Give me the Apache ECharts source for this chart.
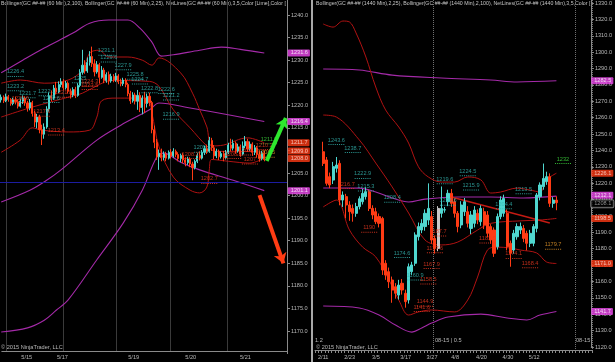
<!DOCTYPE html>
<html><head><meta charset="utf-8">
<script src="https://cdn.jsdelivr.net/npm/echarts@6/dist/echarts.min.js"></script>
<style>html,body{margin:0;padding:0;background:#000;}#c{width:615px;height:362px;}</style>
</head><body><div id="c"></div>
<script>
// ---------------- LEFT PANEL (60 min) ----------------
const leftSlots = 120;
const leftTitle = 'Bollinger(GC ##-## (60 Min),2,100), Bollinger(GC ##-## (60 Min),2,25), NetLines(GC ##-## (60 Min),3,5,Color [Lime],Color [';
const leftDateTicks = [[10,'5/15'],[25,'5/17'],[55,'5/19'],[79,'5/20'],[102,'5/21']];
const leftSessionBreaks = [2,26,48,71,95];
// [open, close, low, high]
const leftOHLC = [
[1221.2,1221.8,1220.6,1222.4],[1221.8,1221.0,1220.5,1222.2],[1221.0,1221.9,1220.7,1222.6],[1221.9,1221.3,1220.8,1222.3],
[1221.3,1220.4,1219.9,1221.6],[1220.4,1221.2,1220.0,1221.7],[1221.2,1220.8,1220.2,1221.9],[1220.8,1219.8,1219.3,1221.3],
[1219.8,1220.9,1219.5,1221.5],[1220.9,1221.6,1220.3,1222.2],[1221.6,1220.5,1219.9,1222.0],[1220.5,1219.4,1218.6,1221.0],
[1219.4,1220.6,1218.9,1221.4],[1220.6,1218.2,1217.5,1221.0],[1218.2,1216.3,1215.2,1218.8],[1216.3,1217.4,1214.9,1218.1],
[1217.4,1214.6,1213.8,1217.9],[1214.6,1213.6,1211.2,1215.7],[1213.6,1215.2,1212.6,1216.0],[1215.2,1219.2,1214.8,1219.8],
[1219.2,1222.1,1218.6,1222.8],[1222.1,1221.6,1220.9,1223.3],[1221.6,1223.8,1221.2,1224.5],[1223.8,1223.0,1222.4,1225.2],
[1223.0,1224.6,1222.7,1225.3],[1224.6,1225.2,1224.0,1226.0],[1225.2,1223.9,1223.3,1225.8],[1223.9,1224.9,1223.5,1225.4],
[1224.9,1223.1,1222.6,1225.3],[1223.1,1222.3,1221.5,1223.7],[1222.3,1223.5,1221.8,1224.0],[1223.5,1222.2,1221.6,1224.1],
[1222.2,1224.4,1221.9,1224.9],[1224.4,1227.3,1224.0,1228.0],[1227.3,1228.9,1226.8,1232.3],[1228.9,1227.6,1227.0,1230.0],
[1227.6,1229.5,1227.2,1230.6],[1229.5,1230.8,1228.8,1232.0],[1230.8,1229.2,1228.5,1233.0],[1229.2,1227.4,1226.4,1230.2],
[1227.4,1229.0,1227.0,1229.8],[1229.0,1226.2,1224.8,1229.4],[1226.2,1227.8,1225.9,1228.7],[1227.8,1225.5,1224.9,1228.3],
[1225.5,1226.8,1225.0,1227.3],[1226.8,1225.4,1224.6,1227.5],[1225.4,1226.4,1225.0,1227.0],[1226.4,1225.6,1225.1,1226.9],
[1225.6,1226.5,1225.2,1227.2],[1226.5,1225.2,1224.7,1226.9],[1225.2,1224.8,1224.2,1225.9],[1224.8,1225.6,1224.3,1226.1],
[1225.6,1224.6,1224.0,1226.0],[1224.6,1222.6,1222.0,1225.0],[1222.6,1221.0,1220.3,1223.2],[1221.0,1222.3,1220.6,1222.9],
[1222.3,1220.9,1220.2,1222.8],[1220.9,1222.2,1219.0,1223.4],[1222.2,1219.5,1218.5,1222.9],[1219.5,1221.6,1218.0,1222.2],
[1221.6,1220.4,1218.3,1223.0],[1220.4,1222.0,1219.5,1222.6],[1222.0,1220.6,1219.8,1222.8],[1220.6,1214.6,1213.8,1221.0],
[1214.6,1211.8,1210.5,1215.5],[1211.8,1208.6,1207.9,1212.6],[1208.6,1209.4,1205.7,1210.2],[1209.4,1208.4,1207.6,1210.4],
[1208.4,1209.2,1207.8,1209.8],[1209.2,1208.3,1207.6,1209.7],[1208.3,1209.6,1208.0,1210.0],[1209.6,1208.8,1208.2,1210.3],
[1208.8,1209.8,1208.4,1210.5],[1209.8,1209.1,1208.5,1210.2],[1209.1,1208.2,1207.6,1209.6],[1208.2,1208.9,1207.4,1209.3],
[1208.9,1207.9,1207.2,1209.4],[1207.9,1207.3,1206.5,1208.5],[1207.3,1208.1,1206.8,1208.6],[1208.1,1207.0,1206.3,1208.5],
[1207.0,1206.2,1203.4,1207.5],[1206.2,1207.6,1205.8,1208.0],[1207.6,1208.9,1207.2,1209.4],[1208.9,1208.3,1207.8,1209.8],
[1208.3,1209.6,1208.0,1210.1],[1209.6,1210.4,1209.0,1211.0],[1210.4,1209.8,1209.2,1211.3],[1209.8,1212.2,1209.5,1213.0],
[1212.2,1210.6,1209.9,1212.8],[1210.6,1208.8,1208.1,1211.2],[1208.8,1209.8,1208.3,1210.4],[1209.8,1208.6,1207.9,1210.2],
[1208.6,1209.3,1208.2,1209.8],[1209.3,1208.4,1207.6,1209.9],[1208.4,1209.6,1208.0,1210.1],[1209.6,1211.2,1209.2,1211.7],
[1211.2,1210.5,1209.8,1212.6],[1210.5,1211.6,1210.0,1212.4],[1211.6,1209.9,1209.3,1212.0],[1209.9,1210.8,1209.5,1211.5],
[1210.8,1209.2,1208.6,1211.3],[1209.2,1211.0,1208.9,1212.0],[1211.0,1212.0,1210.5,1213.2],[1212.0,1210.3,1209.7,1212.6],
[1210.3,1211.4,1209.9,1212.0],[1211.4,1209.6,1208.8,1211.8],[1209.6,1210.6,1209.0,1211.2],[1210.6,1209.1,1208.4,1211.0],
[1209.1,1208.2,1207.5,1209.8],[1208.2,1209.3,1207.8,1209.9],[1209.3,1208.0,1207.6,1210.0]
];
// Bollinger (2,100) magenta, read at bar index
const leftMagUpper = [[0,1227.2],[9,1230.0],[18,1232.7],[30,1236.0],[37,1238.2],[45,1238.9],[53,1238.9],[58,1237.1],[63,1234.0],[67,1230.9],[72,1231.2],[83,1232.2],[92,1232.9],[100,1232.4],[110,1231.6]];
const leftMagMid = [[0,1198.6],[12,1201.2],[19,1203.4],[25,1205.7],[40,1212.3],[50,1215.6],[62,1219.0],[66,1220.5],[79,1219.4],[96,1217.8],[110,1216.4]];
const leftMagLower = [[0,1169.8],[11,1170.7],[18,1172.4],[23,1174.6],[28,1176.9],[40,1185.8],[51,1193.9],[59,1201.2],[65,1208.5],[68,1209.4],[75,1207.4],[83,1205.7],[97,1203.4],[110,1201.1]];
// Bollinger (2,25) red
const leftRedUpper = [[0,1224.9],[8,1225.6],[18,1224.9],[28,1225.6],[34,1227.8],[37,1231.6],[41,1232.2],[45,1230.7],[53,1230.7],[59,1230.0],[63,1228.9],[66,1230.5],[75,1227.2],[80,1222.7],[83,1219.0],[86,1215.2],[88,1211.0],[93,1211.2],[103,1212.8],[110,1211.7]];
const leftRedMid = [[0,1217.4],[13,1219.6],[28,1221.8],[34,1222.7],[41,1224.6],[46,1225.5],[62,1225.3],[66,1224.2],[72,1219.0],[79,1215.0],[86,1211.0],[90,1209.8],[100,1209.8],[110,1209.6]];
const leftRedLower = [[0,1209.6],[8,1212.3],[13,1215.0],[17,1214.5],[28,1214.1],[37,1214.5],[40,1217.4],[42,1221.0],[48,1221.6],[61,1221.6],[63,1218.3],[66,1210.8],[72,1204.1],[79,1201.2],[83,1200.6],[86,1201.9],[87,1205.7],[88,1208.0],[95,1207.6],[104,1207.2],[110,1208.3]];
const leftBlueLevel = 1202.9;
// NetLines labels: [bar index, price, colour key]
const leftNotes = [
[6,1226.4,'c'],[6,1223.2,'c'],[11,1221.7,'c'],[8,1220.6,'r'],[17,1217.6,'r'],[23,1213.4,'r'],
[19,1222.1,'c'],[21,1220.6,'c'],[26,1221.8,'r'],[33,1225,'c'],[37,1224.3,'r'],[37,1223.5,'r'],
[44,1231.1,'c'],[45,1229.6,'c'],[51,1227.9,'c'],[56,1225.8,'c'],[58,1224.7,'c'],
[62,1222.8,'c'],[69,1222.6,'c'],[71,1221.2,'c'],[71,1216.9,'c'],
[84,1209.6,'c'],[79,1208.2,'r'],[97,1208.2,'r'],[102,1209,'r'],[104,1207,'r'],[110,1210.2,'r'],
[87,1202.7,'r'],[112,1211.5,'g'],[111,1208.5,'o']
];
// price tags on the axis: [price, colour key]
const leftTags = [[1231.6,'m'],[1216.4,'m'],[1211.7,'r'],[1209.0,'r'],[1208.0,'r'],[1201.1,'m']];
// arrows: [from bar, from price, to bar, to price, colour key]
const leftArrows = [[111.1,1207.7,119.3,1217.2,'g'],[108.2,1200.1,118.4,1185.0,'r']];

// ---------------- RIGHT PANEL (1440 min) ----------------
const rightSlots = 84;
const rightStart = 2;
const rightTitle = 'Bollinger(GC ##-## (1440 Min),2,25), Bollinger(GC ##-## (1440 Min),2,100), NetLines(GC ##-## (1440 Min),3,5,Color [';
const rightDateTicks = [[2,'2/11'],[10,'2/23'],[18,'3/5'],[27,'3/17'],[35,'3/27'],[42,'4/8'],[50,'4/20'],[58,'4/30'],[66,'5/12']];
const rightBreaks = [36,79];
const rightOHLC = [
[1239.2,1232.1,1230.5,1245.3],[1234.2,1219.9,1218.5,1236.0],[1224.0,1218.9,1217.0,1226.5],[1221.9,1230.1,1219.5,1233.0],
[1229.1,1231.1,1226.5,1236.0],[1232.1,1209.7,1206.5,1234.0],[1209.7,1212.8,1205.5,1215.0],[1211.8,1206.7,1198.5,1213.5],
[1206.7,1202.6,1197.0,1209.0],[1204.6,1201.6,1196.5,1207.0],[1201.6,1205.7,1199.5,1208.0],[1205.7,1210.5,1204.0,1212.0],
[1208.7,1213.8,1207.0,1216.5],[1211.8,1214.8,1210.0,1217.5],[1214.8,1204.6,1203.0,1216.0],[1204.6,1200.6,1198.0,1206.5],
[1202.6,1196.5,1195.0,1205.0],[1199.6,1195.5,1193.0,1201.5],[1198.5,1167.0,1164.0,1199.5],[1171.1,1163.9,1161.0,1173.0],
[1166.0,1159.9,1156.0,1168.5],[1160.9,1154.8,1147.0,1163.0],[1156.8,1152.8,1149.5,1159.0],[1151.7,1157.8,1149.0,1161.0],
[1158.9,1154.8,1152.0,1161.5],[1152.8,1147.7,1144.0,1155.0],[1148.7,1169.0,1146.5,1171.0],[1166.0,1170.1,1164.0,1172.0],
[1171.1,1188.4,1169.5,1190.0],[1187.3,1193.5,1185.0,1196.0],[1191.4,1195.5,1189.5,1198.0],[1193.5,1201.6,1191.0,1204.0],
[1197.5,1204.6,1194.5,1219.9],[1199.6,1185.3,1183.0,1203.0],[1186.3,1180.2,1177.0,1188.0],[1180.2,1204.6,1178.5,1206.0],
[1201.6,1204.6,1199.0,1218.0],[1203.6,1203.8,1202.0,1205.5],[1208.7,1213.8,1206.0,1216.0],[1213.8,1207.7,1205.5,1216.5],
[1208.7,1201.6,1199.0,1210.5],[1201.6,1193.5,1190.0,1203.0],[1194.5,1206.7,1192.5,1209.0],[1202.6,1208.7,1200.0,1211.0],
[1202.6,1195.5,1193.0,1206.0],[1192.4,1200.6,1189.0,1203.0],[1195.5,1203.6,1193.0,1206.0],[1201.6,1197.5,1195.0,1204.0],
[1196.5,1204.6,1194.0,1206.5],[1202.6,1194.5,1192.0,1205.0],[1200.6,1189.4,1187.0,1203.0],[1193.5,1185.3,1183.0,1195.0],
[1191.4,1177.2,1175.0,1193.0],[1181.2,1199.6,1179.5,1201.5],[1199.6,1209.7,1198.0,1212.0],[1201.6,1210.7,1199.5,1213.0],
[1201.6,1181.2,1179.0,1204.0],[1183.3,1177.2,1169.0,1185.0],[1179.2,1189.4,1177.0,1191.5],[1187.3,1193.5,1185.5,1195.5],
[1191.4,1193.5,1189.0,1196.0],[1192.4,1186.3,1184.0,1194.5],[1189.4,1183.3,1179.0,1191.0],[1183.3,1189.4,1181.0,1191.5],
[1183.3,1193.5,1181.5,1195.0],[1192.4,1212.8,1190.0,1214.0],[1211.8,1218.9,1209.5,1220.5],[1217.9,1222.9,1216.0,1232.0],
[1221.0,1224.0,1219.0,1227.0],[1224.0,1207.7,1205.5,1226.0],[1207.7,1209.7,1205.0,1211.5],[1209.7,1208.1,1203.5,1212.0]
];
const rightRedUpper = [[2,1317.2],[5,1315.3],[8,1319.0],[10,1318.4],[12,1311.7],[15,1297.0],[18,1278.7],[21,1264.7],[25,1254.3],[28,1244.5],[31,1230.0],[34,1223.8],[38,1220.7],[42,1220.7],[46,1223.8],[50,1222.0],[53,1214.0],[56,1214.6],[61,1217.0],[65,1215.8],[68,1214.6],[70,1222.0],[73,1226.1]];
const rightRedMid = [[2,1261.6],[6,1260.4],[13,1246.4],[18,1232.3],[23,1217.7],[28,1201.8],[33,1185.3],[38,1182.3],[43,1184.1],[49,1191.4],[53,1195.5],[62,1197.0],[68,1197.5],[73,1198.5]];
const rightRedLower = [[2,1205.5],[6,1209.7],[10,1191.4],[14,1181.0],[18,1175.0],[22,1161.0],[25,1148.7],[28,1139.5],[31,1141.4],[35,1142.6],[42,1141.4],[46,1148.7],[49,1162.7],[52,1179.2],[55,1181.0],[59,1180.4],[62,1179.2],[67,1177.4],[70,1171.9],[73,1171.0]];
const rightMagUpper = [[2,1289.7],[13,1289.1],[23,1286.0],[38,1284.2],[53,1283.0],[61,1281.8],[73,1282.5]];
const rightMagMid = [[2,1217.1],[13,1217.0],[18,1214.6],[23,1211.0],[28,1208.5],[33,1210.3],[43,1211.6],[53,1211.6],[63,1211.0],[73,1212.1]];
const rightMagLower = [[2,1145.0],[13,1143.8],[19,1139.5],[24,1133.4],[29,1129.1],[32,1131.6],[35,1134.6],[40,1138.3],[50,1140.1],[58,1137.7],[64,1136.5],[68,1139.5],[73,1141.7]];
const rightTrend = [[41,1211.6],[71,1195.7]];
const rightNotes = [
[6,1243.6,'c'],[11,1238.7,'c'],[14,1222.9,'c'],[9,1216.7,'r'],[15,1215.3,'c'],[23,1208.4,'c'],[16,1190,'r'],
[39,1219.6,'c'],[46,1224.5,'c'],[47,1215.9,'c'],[40,1206.6,'c'],[63,1213.5,'c'],[57,1204.4,'c'],
[37,1187.7,'r'],[36,1177.6,'r'],[52,1183.5,'r'],[60,1174.1,'r'],[65,1168.4,'r'],[72,1179.7,'o'],
[26,1174.6,'c'],[35,1167.9,'r'],[30,1160.9,'c'],[34,1158.5,'r'],[33,1144.9,'r'],[32,1141.6,'r'],[75,1232,'g']
];
const rightTags = [[1282.5,'m'],[1226.1,'r'],[1212.1,'m'],[1208.1,'k'],[1198.5,'r'],[1171.0,'r'],[1141.7,'m']];

// ---------------- styles ----------------
const FONT = 'Liberation Sans';
const C = {up:'#4fd6cf', down:'#ff3b14', doji:'#c8c8c8', mag:'#a42aa8', red:'#b01212', blue:'#1c1ca0', axis:'#8a8a8a', text:'#b8b8b8', grid:'#3a3a3a'};
const noteColor = {c:'#34b6b2', r:'#ee3a22', g:'#3ee03e', o:'#e89a2a'};
const tagStyle = {
  m:{backgroundColor:'#f04af0', color:'#ffffff'},
  r:{backgroundColor:'#ff3a14', color:'#ffe0d8'},
  k:{backgroundColor:'#000000', color:'#b0b0b0', borderColor:'#9a9a9a', borderWidth:1}
};
const leftTagNudge = [0,0,0,-4,-1,0];
const rightTagNudge = [0,0,-1,1,0,0,0];
const arrowColor = {g:'#2ee82e', r:'#ff3c14'};
const dotPath = 'path://M0,0h1v1h-1zM2,0h1v1h-1zM4,0h1v1h-1zM6,0h1v1h-1zM8,0h1v1h-1zM10,0h1v1h-1zM12,0h1v1h-1zM14,0h1v1h-1z';

function cats(n){return Array.from({length:n},(_,i)=>String(i));}
function dateLabels(n,t){const a=Array(n).fill('');t.forEach(([i,s])=>a[i]=s);return a;}
function fmtNote(v){return Number.isInteger(v)?String(v):v.toFixed(1);}
function fitFont(text,width){const cv=document.createElement('canvas').getContext('2d');cv.font='10px "'+FONT+'"';return 10*width/cv.measureText(text).width;}

function band(data,color,xi,w){return {type:'line',xAxisIndex:xi,yAxisIndex:xi,data:data,smooth:0.35,showSymbol:false,symbol:'none',lineStyle:{color:color,width:w||1},z:2,silent:true};}
function candles(ohlc,xi,pad,w,dojiIdx){
  const d=Array(pad).fill('-').concat(ohlc.map((v,i)=>i===dojiIdx?{value:v,itemStyle:{color:C.doji,color0:C.doji,borderColor:C.doji,borderColor0:C.doji}}:v));
  return {type:'candlestick',xAxisIndex:xi,yAxisIndex:xi,data:d,barWidth:w,z:3,
    itemStyle:{color:C.up,color0:C.down,borderColor:C.up,borderColor0:C.down,borderWidth:1}};
}
function notes(list,xi){
  return {type:'scatter',xAxisIndex:xi,yAxisIndex:xi,symbol:dotPath,symbolSize:[16,1],z:4,silent:true,
    data:list.map(n=>({value:[n[0],n[1]],itemStyle:{color:noteColor[n[2]]},
      label:{show:true,position:'top',distance:1,formatter:fmtNote(n[1]),color:noteColor[n[2]],fontSize:5.6,fontFamily:FONT}}))};
}
function tags(list,xi,lastIdx,nudge){
  return {type:'scatter',xAxisIndex:xi,yAxisIndex:xi,symbolSize:0,z:6,silent:true,
    data:list.map((t,k)=>({value:[lastIdx,t[0]],label:Object.assign({show:true,position:'right',distance:2,offset:[0,nudge[k]],
      formatter:t[0].toFixed(1),fontSize:5.6,fontFamily:FONT,padding:[1,2,0,3],borderRadius:1},tagStyle[t[1]])}))};
}

const chart = echarts.init(document.getElementById('c'),null,{renderer:'canvas'});
const axLabel = {color:C.text,fontSize:5.6,fontFamily:FONT};
const option = {
  backgroundColor:'#000',
  animation:false,
  grid:[
    {left:0,top:0,width:287,height:353.6},
    {left:0,top:0,width:287,height:351.7},
    {left:315,top:0,width:277,height:347},
    {left:315,top:0,width:277,height:350}
  ],
  xAxis:[
    {gridIndex:0,type:'category',data:cats(leftSlots),show:false},
    {gridIndex:1,type:'category',data:dateLabels(leftSlots,leftDateTicks),
      axisLine:{lineStyle:{color:C.axis}},axisTick:{show:false},
      axisLabel:Object.assign({interval:0,margin:3},axLabel),
      splitLine:{show:true,interval:(i)=>leftSessionBreaks.includes(i),lineStyle:{color:C.grid,width:1}}},
    {gridIndex:2,type:'category',data:cats(rightSlots),show:false},
    {gridIndex:3,type:'category',data:dateLabels(rightSlots,rightDateTicks),
      axisLine:{lineStyle:{color:C.axis}},axisTick:{show:true,interval:0,length:3,lineStyle:{color:C.axis}},
      axisLabel:Object.assign({interval:0,margin:4},axLabel),
      splitLine:{show:true,interval:(i)=>rightBreaks.includes(i),lineStyle:{color:'#707070',type:'dotted',width:1}}}
  ],
  yAxis:[
    {gridIndex:0,type:'value',position:'right',min:1165,max:1243.33,interval:5,
      axisLine:{show:true,lineStyle:{color:C.axis}},axisTick:{show:true,length:3,lineStyle:{color:C.axis}},
      axisLabel:Object.assign({margin:4,showMinLabel:false,showMaxLabel:false,formatter:v=>v.toFixed(1)},axLabel),
      splitLine:{show:false}},
    {gridIndex:1,type:'value',show:false},
    {gridIndex:2,type:'value',position:'right',min:1120,max:1331.84,interval:10,
      axisLine:{show:true,lineStyle:{color:C.axis}},axisTick:{show:true,length:3,lineStyle:{color:C.axis}},
      axisLabel:Object.assign({margin:4,showMaxLabel:false,formatter:v=>v.toFixed(1)},axLabel),
      splitLine:{show:false}},
    {gridIndex:3,type:'value',show:false}
  ],
  series:[
    // left
    {type:'line',xAxisIndex:0,yAxisIndex:0,data:[],markLine:{silent:true,symbol:'none',label:{show:false},
      lineStyle:{color:C.blue,type:'solid',width:1.2},data:[{yAxis:leftBlueLevel}]}},
    band(leftMagUpper,C.mag,0,1.1),band(leftMagMid,C.mag,0,1.1),band(leftMagLower,C.mag,0,1.1),
    band(leftRedUpper,C.red,0),band(leftRedMid,C.red,0),band(leftRedLower,C.red,0),
    candles(leftOHLC,0,0,1.6,-1),
    notes(leftNotes,0),
    tags(leftTags,0,leftSlots-1,leftTagNudge),
    {type:'lines',coordinateSystem:'cartesian2d',xAxisIndex:0,yAxisIndex:0,z:7,silent:true,
      symbol:['none','arrow'],symbolSize:10,
      data:leftArrows.map(a=>({coords:[[a[0],a[1]],[a[2],a[3]]],lineStyle:{color:arrowColor[a[4]],width:4,opacity:1}}))},
    // right
    band(rightMagUpper,C.mag,2,1.1),band(rightMagMid,C.mag,2,1.1),band(rightMagLower,C.mag,2,1.1),
    band(rightRedUpper,C.red,2),band(rightRedMid,C.red,2),band(rightRedLower,C.red,2),
    {type:'line',xAxisIndex:2,yAxisIndex:2,data:rightTrend,showSymbol:false,symbol:'none',lineStyle:{color:'#c41a12',width:1.4},z:2},
    candles(rightOHLC,2,rightStart,2.6,35),
    notes(rightNotes,2),
    tags(rightTags,2,rightSlots-1,rightTagNudge)
  ],
  graphic:[
    {type:'text',left:1,top:1,silent:true,style:{text:leftTitle,fill:'#c4c4c4',font:fitFont(leftTitle,285).toFixed(2)+'px "'+FONT+'"'}},
    {type:'text',left:316,top:1,silent:true,style:{text:rightTitle,fill:'#c4c4c4',font:fitFont(rightTitle,275).toFixed(2)+'px "'+FONT+'"'}},
    {type:'rect',left:311,top:0,silent:true,shape:{width:2,height:362},style:{fill:'#a8a8a8'}},
    {type:'text',left:1,top:344,silent:true,style:{text:'© 2015 NinjaTrader, LLC',fill:'#b8b8b8',font:'5.6px "'+FONT+'"'}},
    {type:'text',left:316,top:344,silent:true,style:{text:'© 2015 NinjaTrader, LLC',fill:'#b8b8b8',font:'5.6px "'+FONT+'"'}},
    {type:'text',left:315,top:337,silent:true,style:{text:'1.2',fill:'#b8b8b8',font:'5.6px "'+FONT+'"'}},
    {type:'text',left:435,top:337,silent:true,style:{text:'08-15 | 0.5',fill:'#b8b8b8',font:'5.6px "'+FONT+'"'}},
    {type:'text',left:576,top:337,silent:true,style:{text:'08-15',fill:'#b8b8b8',font:'5.6px "'+FONT+'"'}}
  ]
};
chart.setOption(option);
</script></body></html>
